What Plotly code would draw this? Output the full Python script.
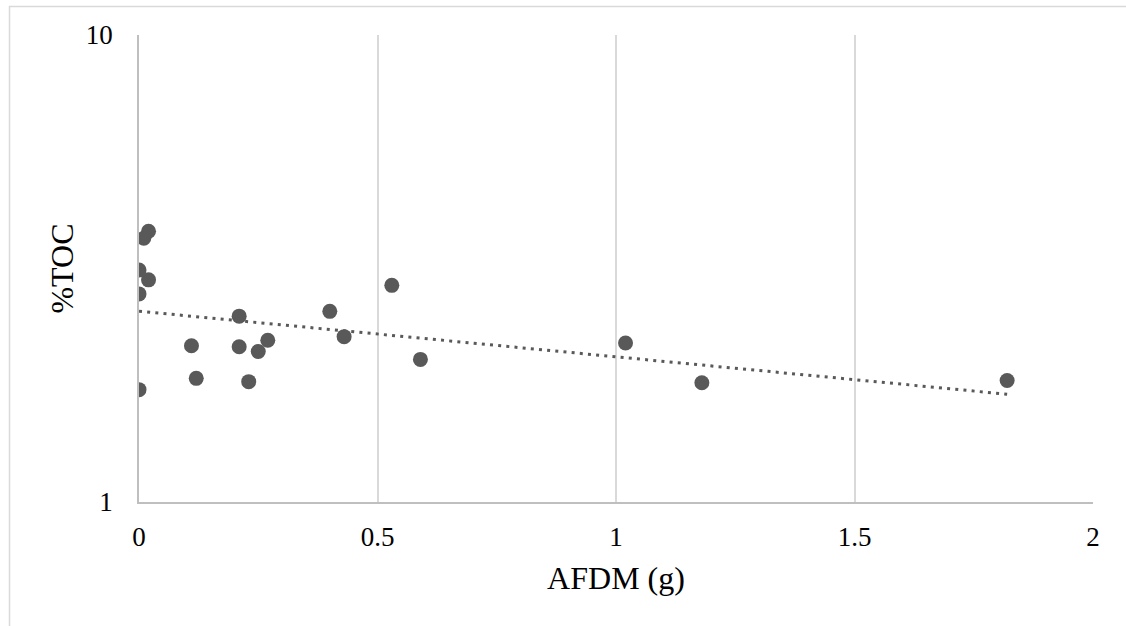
import numpy as np
import plotly.graph_objects as go

# Data
afdm_g = [0.02, 0.01, 0.00, 0.02, 0.00, 0.21, 0.11, 0.21, 0.25, 0.27,
          0.12, 0.23, 0.00, 0.40, 0.43, 0.53, 0.59, 1.02, 1.18, 1.82]
toc_pct = [3.80, 3.67, 3.14, 2.99, 2.79, 2.50, 2.16, 2.15, 2.10, 2.22,
           1.84, 1.81, 1.74, 2.56, 2.26, 2.91, 2.02, 2.19, 1.80, 1.82]

x_ticks = [0, 0.5, 1, 1.5, 2]
x_tick_labels = ["0", "0.5", "1", "1.5", "2"]
y_ticks = [1, 10]
y_tick_labels = ["1", "10"]

# Exponential trendline (least squares on log values, as in Excel)
xa = np.array(afdm_g)
ya = np.array(toc_pct)
b, a = np.polyfit(xa, np.log(ya), 1)
trend_x = np.linspace(xa.min(), xa.max(), 100)
trend_y = np.exp(a + b * trend_x)

GRAY = "#595959"
FONT = "Liberation Serif, serif"

L, R, T, B = 139, 33, 35, 124
W, H = 1126, 626
PW, PH = W - L - R, H - T - B


def px_x(p):
    return (p - L) / PW


def px_y(p):
    return (H - B - p) / PH


fig = go.Figure()
fig.add_trace(go.Scatter(
    x=trend_x, y=trend_y, mode="lines",
    line=dict(color=GRAY, width=3, dash="3px,5.2px"),
    hoverinfo="skip", showlegend=False,
))
fig.add_trace(go.Scatter(
    x=afdm_g, y=toc_pct, mode="markers",
    marker=dict(color=GRAY, size=15, line=dict(width=0)),
    showlegend=False,
))

fig.update_layout(
    width=W, height=H,
    margin=dict(l=L, r=R, t=T, b=B),
    paper_bgcolor="white", plot_bgcolor="white",
    font=dict(family=FONT, size=27, color="black"),
    showlegend=False,
    shapes=[
        # outer chart frame (top and left edges visible)
        dict(type="line", xref="paper", yref="paper",
             x0=px_x(9), x1=px_x(1130), y0=px_y(6.5), y1=px_y(6.5),
             line=dict(color="#d9d9d9", width=1.5)),
        dict(type="line", xref="paper", yref="paper",
             x0=px_x(9.5), x1=px_x(9.5), y0=px_y(6), y1=px_y(630),
             line=dict(color="#d9d9d9", width=1.5)),
    ],
)

fig.update_xaxes(
    range=[0, 2], tickvals=x_ticks, ticktext=x_tick_labels,
    showgrid=True, gridcolor="#d9d9d9", gridwidth=1.5,
    zeroline=False, showline=True, linecolor="#bfbfbf", linewidth=1.5,
    ticks="", ticklabelstandoff=10,
    title=dict(text="AFDM (g)", standoff=15),
)
fig.update_yaxes(
    type="log", range=[0, 1], tickvals=y_ticks, ticktext=y_tick_labels,
    showgrid=True, gridcolor="#d9d9d9", gridwidth=1.5,
    zeroline=False, showline=True, linecolor="#bfbfbf", linewidth=1.5,
    ticks="", ticklabelstandoff=19,
    title=dict(text="%TOC", standoff=3),
)

fig.write_html(
    "out.html",
    config={"displayModeBar": False},
    post_script="document.body.style.margin='0';document.body.style.overflow='hidden';",
)
